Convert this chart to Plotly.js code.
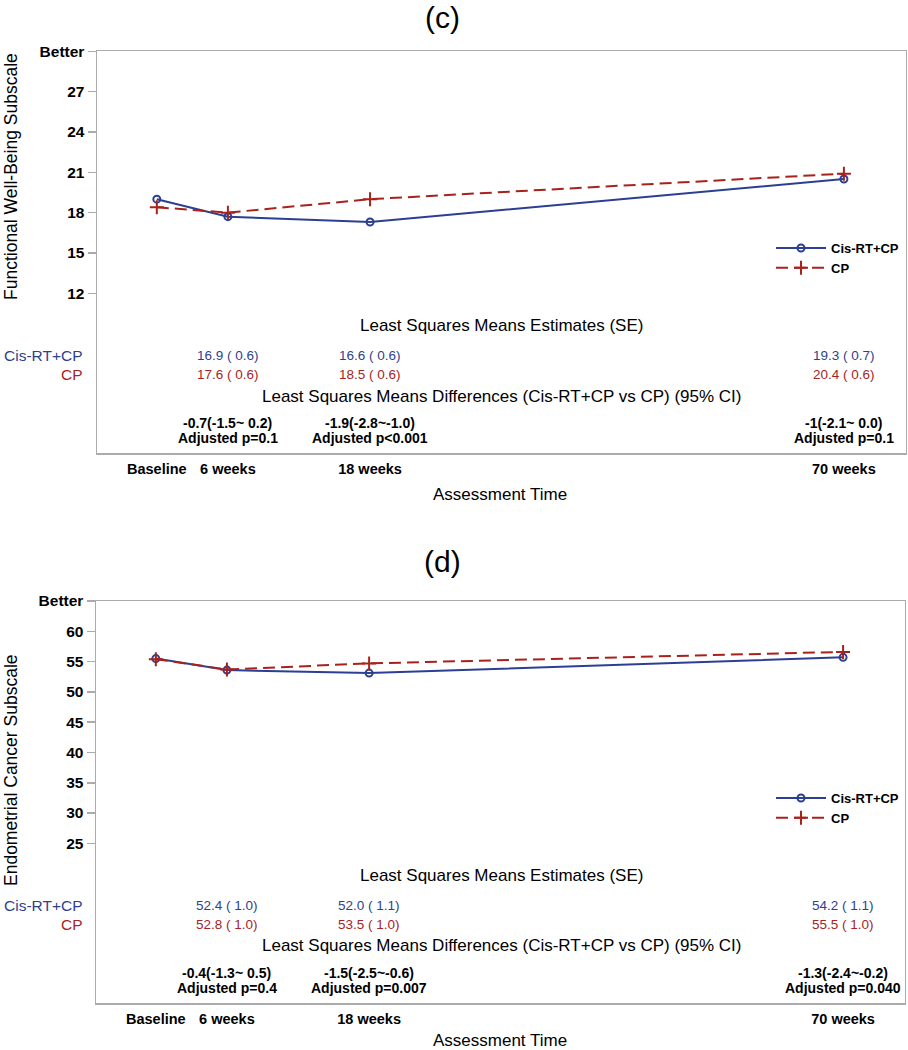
<!DOCTYPE html>
<html>
<head>
<meta charset="utf-8">
<script src="https://cdn.plot.ly/plotly-3.0.1.min.js"></script>
<style>html,body{margin:0;padding:0;background:#fff;}#chart{width:908px;height:1050px;}</style>
</head>
<body>
<div id="chart"></div>
<script>
// ---------------- data ----------------
const timeLabels = ['Baseline', '6 weeks', '18 weeks', '70 weeks'];
const timeAxisPos = [0, 6, 18, 58];           // horizontal placement used by the original plot
const seriesNames = ['Cis-RT+CP', 'CP'];

// (c) Functional Well-Being Subscale
const fwbCisRT = [19.0, 17.7, 17.3, 20.5];
const fwbCP    = [18.4, 18.0, 19.0, 20.9];
const fwbTickVals = [12, 15, 18, 21, 24, 27, 30];
const fwbTickText = ['12', '15', '18', '21', '24', '27', 'Better'];
const fwbEstCis = ['16.9 ( 0.6)', '16.6 ( 0.6)', '19.3 ( 0.7)'];
const fwbEstCP  = ['17.6 ( 0.6)', '18.5 ( 0.6)', '20.4 ( 0.6)'];
const fwbDiff   = ['-0.7(-1.5~ 0.2)', '-1.9(-2.8~-1.0)', '-1(-2.1~ 0.0)'];
const fwbP      = ['Adjusted p=0.1', 'Adjusted p<0.001', 'Adjusted p=0.1'];

// (d) Endometrial Cancer Subscale
const ecsCisRT = [55.5, 53.6, 53.1, 55.7];
const ecsCP    = [55.4, 53.7, 54.7, 56.6];
const ecsTickVals = [25, 30, 35, 40, 45, 50, 55, 60, 65];
const ecsTickText = ['25', '30', '35', '40', '45', '50', '55', '60', 'Better'];
const ecsEstCis = ['52.4 ( 1.0)', '52.0 ( 1.1)', '54.2 ( 1.1)'];
const ecsEstCP  = ['52.8 ( 1.0)', '53.5 ( 1.0)', '55.5 ( 1.0)'];
const ecsDiff   = ['-0.4(-1.3~ 0.5)', '-1.5(-2.5~-0.6)', '-1.3(-2.4~-0.2)'];
const ecsP      = ['Adjusted p=0.4', 'Adjusted p=0.007', 'Adjusted p=0.040'];

// ---------------- styling ----------------
const W = 908, H = 1050;
const BLUE = '#2B3F93', RED = '#A8221C';
const BLUE_T = '#2E3F90', RED_T = '#A5241F';
const AXC = '#ababab';
const SANS = 'Liberation Sans, Arial, sans-serif';
const px = v => 1 - v / H;      // page pixel row -> paper y
const pxX = v => v / W;         // page pixel column -> paper x

function traces(cis, cp, xa, ya, leg) {
  return [
    {x: timeAxisPos, y: cis, xaxis: xa, yaxis: ya, legend: leg, name: seriesNames[0],
     type: 'scatter', mode: 'lines+markers',
     line: {color: BLUE, width: 2},
     marker: {symbol: 'circle-open', size: 7, color: BLUE, line: {width: 2, color: BLUE}}},
    {x: timeAxisPos, y: cp, xaxis: xa, yaxis: ya, legend: leg, name: seriesNames[1],
     type: 'scatter', mode: 'lines+markers',
     line: {color: RED, width: 2, dash: '12px,6px'},
     marker: {symbol: 'cross-thin-open', size: 10, color: RED, line: {width: 2, color: RED}}}
  ];
}

function panelAnnotations(p) {
  const a = [];
  a.push({text: p.title, xref: 'paper', yref: 'paper', x: pxX(442), y: px(p.titleY),
          showarrow: false, xanchor: 'center', yanchor: 'middle',
          font: {family: SANS, size: 30, color: '#000'}});
  a.push({text: p.yTitle, xref: 'paper', yref: 'paper', x: pxX(11), y: px(p.yTitleY),
          textangle: -90, showarrow: false, xanchor: 'center', yanchor: 'middle',
          font: {family: SANS, size: 17.5, color: '#000'}});
  a.push({text: 'Least Squares Means Estimates (SE)', xref: 'paper', yref: 'paper',
          x: pxX(501), y: px(p.rows[0]), showarrow: false, xanchor: 'center', yanchor: 'middle',
          font: {family: SANS, size: 17, color: '#000'}});
  a.push({text: seriesNames[0], xref: 'paper', yref: 'paper', x: pxX(85), y: px(p.rows[1]),
          showarrow: false, xanchor: 'right', yanchor: 'middle',
          font: {family: SANS, size: 15.5, color: BLUE_T}});
  a.push({text: seriesNames[1], xref: 'paper', yref: 'paper', x: pxX(85), y: px(p.rows[2]),
          showarrow: false, xanchor: 'right', yanchor: 'middle',
          font: {family: SANS, size: 15.5, color: RED_T}});
  a.push({text: 'Least Squares Means Differences (Cis-RT+CP vs CP) (95% CI)', xref: 'paper', yref: 'paper',
          x: pxX(501), y: px(p.rows[3]), showarrow: false, xanchor: 'center', yanchor: 'middle',
          font: {family: SANS, size: 17, color: '#000'}});
  for (let i = 0; i < 3; i++) {
    const xv = timeAxisPos[i + 1];
    a.push({text: p.estCis[i], xref: p.xa, yref: 'paper', x: xv, y: px(p.rows[1]), showarrow: false,
            xanchor: 'center', yanchor: 'middle', font: {family: SANS, size: 13.5, color: BLUE_T}});
    a.push({text: p.estCP[i], xref: p.xa, yref: 'paper', x: xv, y: px(p.rows[2]), showarrow: false,
            xanchor: 'center', yanchor: 'middle', font: {family: SANS, size: 13.5, color: RED_T}});
    a.push({text: p.diff[i], xref: p.xa, yref: 'paper', x: xv, y: px(p.rows[4]), showarrow: false,
            xanchor: 'center', yanchor: 'middle', font: {family: SANS, size: 14, color: '#000', weight: 'bold'}});
    a.push({text: p.pv[i], xref: p.xa, yref: 'paper', x: xv, y: px(p.rows[5]), showarrow: false,
            xanchor: 'center', yanchor: 'middle', font: {family: SANS, size: 14, color: '#000', weight: 'bold'}});
  }
  a.push({text: 'Assessment Time', xref: 'paper', yref: 'paper', x: pxX(500), y: px(p.xTitleY),
          showarrow: false, xanchor: 'center', yanchor: 'middle',
          font: {family: SANS, size: 17, color: '#000'}});
  return a;
}

const data = [].concat(
  traces(fwbCisRT, fwbCP, 'x', 'y', 'legend'),
  traces(ecsCisRT, ecsCP, 'x2', 'y2', 'legend2')
);

const xCommon = {
  range: [-5.05, 63.2], tickmode: 'array', tickvals: timeAxisPos, ticktext: timeLabels,
  showgrid: false, zeroline: false, showline: true, mirror: true, linecolor: AXC, linewidth: 1.5,
  ticks: '', ticklabelstandoff: 2, automargin: false,
  tickfont: {family: SANS, size: 14.5, color: '#000', weight: 'bold'}
};
const yCommon = {
  tickmode: 'array', showgrid: false, zeroline: false, showline: true, mirror: true,
  linecolor: AXC, linewidth: 1.5, ticks: 'outside', ticklen: 8, tickwidth: 1.5, tickcolor: AXC,
  ticklabelstandoff: 0, automargin: false,
  tickfont: {family: SANS, size: 15.5, color: '#000', weight: 'bold'}
};
const legendCommon = {
  xanchor: 'right', yanchor: 'top', bgcolor: 'rgba(0,0,0,0)', borderwidth: 0,
  font: {family: SANS, size: 13, color: '#000', weight: 'bold'},
  itemwidth: 50, tracegroupgap: 0, traceorder: 'normal'
};

const layout = {
  width: W, height: H, margin: {l: 0, r: 0, t: 0, b: 0, autoexpand: false},
  paper_bgcolor: '#fff', plot_bgcolor: '#fff', showlegend: true,
  xaxis: Object.assign({}, xCommon, {domain: [pxX(97), pxX(905.5)], anchor: 'y'}),
  yaxis: Object.assign({}, yCommon, {domain: [px(453.3), px(51.3)], anchor: 'x',
          range: [0.1, 30], tickvals: fwbTickVals, ticktext: fwbTickText}),
  xaxis2: Object.assign({}, xCommon, {domain: [pxX(96), pxX(904.7)], anchor: 'y2'}),
  yaxis2: Object.assign({}, yCommon, {domain: [px(1003.3), px(601)], anchor: 'x2',
          range: [-1.4, 65], tickvals: ecsTickVals, ticktext: ecsTickText}),
  legend: Object.assign({}, legendCommon, {x: pxX(904), y: px(233)}),
  legend2: Object.assign({}, legendCommon, {x: pxX(904), y: px(783)}),
  annotations: [].concat(
    panelAnnotations({title: '(c)', titleY: 18, yTitle: 'Functional Well-Being Subscale', yTitleY: 177,
      rows: [325.7, 355.7, 374, 396, 423.3, 438.3], xTitleY: 494, xa: 'x',
      estCis: fwbEstCis, estCP: fwbEstCP, diff: fwbDiff, pv: fwbP}),
    panelAnnotations({title: '(d)', titleY: 561, yTitle: 'Endometrial Cancer Subscale', yTitleY: 770,
      rows: [875.7, 905.7, 924, 945.7, 972.7, 988.3], xTitleY: 1040, xa: 'x2',
      estCis: ecsEstCis, estCP: ecsEstCP, diff: ecsDiff, pv: ecsP})
  )
};

Plotly.newPlot('chart', data, layout, {displayModeBar: false, staticPlot: true});
</script>
</body>
</html>
